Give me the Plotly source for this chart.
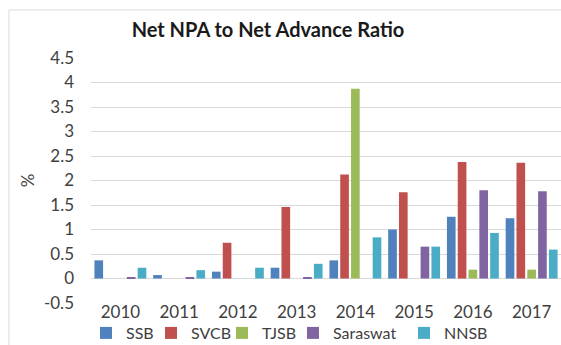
import plotly.graph_objects as go

years = ["2010", "2011", "2012", "2013", "2014", "2015", "2016", "2017"]
ssb = [0.37, 0.07, 0.14, 0.22, 0.37, 1.00, 1.26, 1.23]
svcb = [None, None, 0.73, 1.46, 2.12, 1.76, 2.38, 2.36]
tjsb = [None, None, None, None, 3.87, None, 0.18, 0.18]
saraswat = [0.02, 0.02, None, 0.02, None, 0.65, 1.80, 1.78]
nnsb = [0.22, 0.17, 0.22, 0.30, 0.84, 0.65, 0.93, 0.59]
y_ticks = [-0.5, 0, 0.5, 1, 1.5, 2, 2.5, 3, 3.5, 4, 4.5]
y_tick_labels = ["-0.5", "0", "0.5", "1", "1.5", "2", "2.5", "3", "3.5", "4", "4.5"]

series = [
    ("SSB", ssb, "#4F81BD"),
    ("SVCB", svcb, "#C0504D"),
    ("TJSB", tjsb, "#9BBB59"),
    ("Saraswat", saraswat, "#8064A2"),
    ("NNSB", nnsb, "#4BACC6"),
]
# left edge (px) of each legend entry
legend_x_px = [86, 151, 222, 293, 404]

FONT = "Lato"
fig = go.Figure()
legend_layouts = {}
for i, (name, vals, color) in enumerate(series):
    key = "legend" if i == 0 else f"legend{i + 1}"
    fig.add_trace(go.Bar(x=years, y=vals, name=name, legend=key,
                         marker=dict(color=color, line=dict(width=0))))
    legend_layouts[key] = dict(orientation="h", xref="container", yref="container",
                               x=legend_x_px[i] / 561, xanchor="left",
                               y=1 - 333 / 345, yanchor="middle",
                               bgcolor="rgba(0,0,0,0)",
                               font=dict(family=FONT, size=16, color="#404040"))

fig.update_layout(
    width=561, height=345,
    margin=dict(l=91, r=0, t=58, b=42),
    paper_bgcolor="white", plot_bgcolor="white",
    barmode="group", bargap=0.08, bargroupgap=0.2,
    font=dict(family=FONT, size=17, color="#404040"),
    title=dict(text="<b>Net NPA to Net Advance Ratio</b>", x=268 / 561, xref="container", xanchor="center",
               y=1 - 30 / 345, yref="container", yanchor="middle",
               font=dict(family=FONT, size=20, color="#1a1a1a")),
    showlegend=True,
    xaxis=dict(showgrid=False, showline=False, ticks="", automargin=False, ticklabelstandoff=-3,
               tickfont=dict(size=17, color="#404040")),
    yaxis=dict(range=[-0.5, 4.5], tickmode="array", tickvals=y_ticks, ticktext=y_tick_labels,
               showgrid=True, gridcolor="#d9d9d9", gridwidth=1, automargin=False,
               zeroline=True, zerolinecolor="#d9d9d9", zerolinewidth=1, showline=False,
               ticklabelstandoff=16,
               tickfont=dict(size=17, color="#404040"),
               title=dict(text="%", standoff=4, font=dict(size=17, color="#404040"))),
    shapes=[dict(type="rect", xref="paper", yref="paper", x0=-0.1745, x1=1.3, y0=-0.5, y1=1.196,
                 line=dict(color="#d9d9d9", width=1), fillcolor="rgba(0,0,0,0)", layer="below")],
)
fig.update_layout(**legend_layouts)

fig.write_html("out.html")
